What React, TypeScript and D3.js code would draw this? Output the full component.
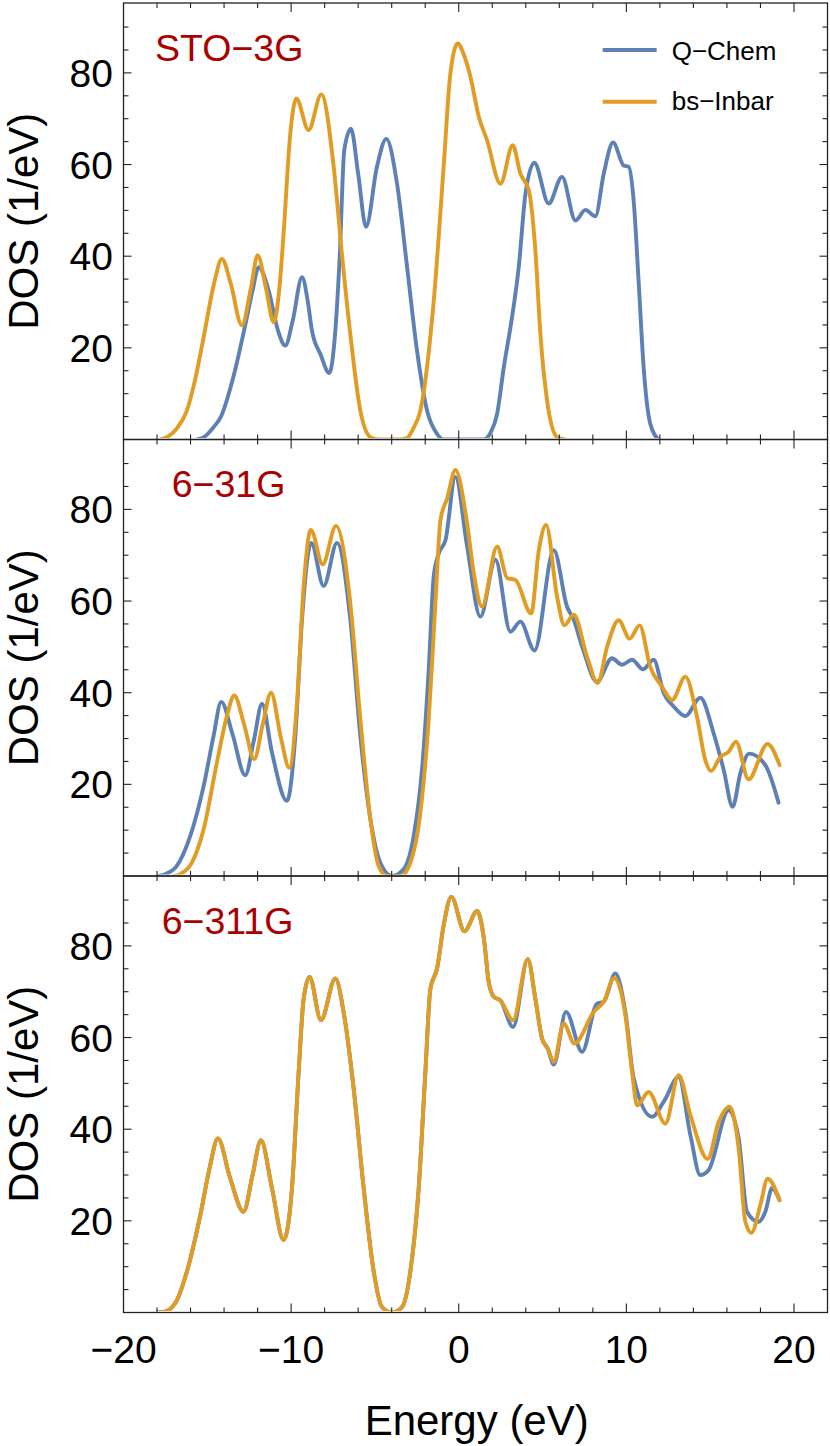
import React from "react";
import * as d3 from "d3";

type Pt = [number, number];

// ---- Data: energy (eV), DOS (1/eV) ----
const sto3gQChem: Pt[] = [
  [-15.6, 0], [-15.2, 0.5], [-14.6, 2.8], [-14.2, 4.9], [-13.4, 14.3], [-12.74, 24.9], [-12.3, 32.5],
  [-11.94, 37.6], [-11.34, 32.5], [-10.8, 24], [-10.35, 20.5], [-9.9, 26], [-9.35, 35.4], [-9.0, 30],
  [-8.76, 23.8], [-8.26, 18.7], [-7.72, 14.5], [-7.4, 22], [-7.1, 40], [-6.83, 63.1], [-6.43, 67.8],
  [-6.0, 58], [-5.53, 46.4], [-4.88, 59.5], [-4.32, 65.6], [-3.68, 55.8], [-3.08, 37.6], [-2.49, 19.4],
  [-1.89, 6.3], [-1.29, 1.2], [-0.9, 0], [1.5, 0], [1.9, 1.5], [2.29, 5.6], [2.69, 15.8], [3.18, 26.7],
  [3.58, 37.6], [3.98, 53.6], [4.51, 60.4], [5.37, 51.5], [6.16, 57.3], [6.96, 47.8], [7.56, 50.1],
  [8.15, 48.7], [8.65, 58], [9.21, 64.8], [9.84, 59.8], [10.14, 59.5], [10.44, 51.9], [10.74, 34],
  [11.03, 15.8], [11.43, 3.4], [11.93, 0],
];
const sto3gInbar: Pt[] = [
  [-17.8, 0], [-17.41, 0.5], [-16.8, 2.5], [-16.22, 6.3], [-15.7, 13.5], [-15.22, 22.3], [-14.6, 34],
  [-14.13, 39.4], [-13.6, 34], [-12.94, 24.9], [-12.4, 33], [-12.0, 40.2], [-11.5, 33], [-11.04, 25.6],
  [-10.7, 33], [-10.45, 44.9], [-10.05, 66.7], [-9.69, 74.4], [-8.96, 67.5], [-8.2, 75.3], [-7.46, 59.5],
  [-6.97, 40.5], [-6.47, 23], [-5.87, 6.3], [-5.27, 0.5], [-4.8, 0], [-3.5, 0], [-3.08, 0.3], [-2.7, 2.5],
  [-2.29, 6.3], [-1.49, 30.3], [-0.9, 59.5], [-0.5, 79.8], [-0.06, 86.4], [0.3, 84], [0.7, 79.1],
  [1.2, 70.4], [1.69, 65.3], [2.49, 55.8], [3.22, 64.2], [3.68, 58], [4.18, 54.4], [4.57, 41.3],
  [4.87, 23.1], [5.27, 8.5], [5.87, 0.5], [6.3, 0],
];
const g631QChem: Pt[] = [
  [-17.9, 0], [-17.51, 0.4], [-16.82, 2.2], [-16.02, 8.7], [-15.22, 19.6], [-14.63, 30.5], [-14.17, 38],
  [-13.5, 31], [-12.74, 22], [-12.2, 30], [-11.74, 37.6], [-11.14, 26.9], [-10.25, 16.4], [-9.75, 30.5],
  [-9.35, 56], [-8.8, 72.7], [-8.06, 63.3], [-7.26, 72.7], [-6.47, 56], [-5.87, 30.5], [-5.27, 12.4],
  [-4.68, 2.9], [-3.98, 0], [-3.28, 1.5], [-2.69, 8.7], [-2.19, 23.3], [-1.79, 45.1], [-1.49, 65.5],
  [-1.19, 70.4], [-0.79, 73.3], [-0.2, 87.1], [0.5, 71.9], [1.29, 56.6], [2.19, 69], [3.08, 53.3],
  [3.68, 55.5], [4.52, 49.2], [5.67, 71.1], [6.46, 58.8], [6.86, 55.9], [7.36, 50.1], [8.25, 42.4],
  [9.14, 47.5], [9.74, 46.1], [10.34, 47.2], [10.99, 45.1], [11.63, 47.2], [12.23, 39.9], [12.82, 37],
  [13.52, 34.9], [14.41, 38.9], [15.21, 31.1], [15.81, 23.1], [16.34, 15.1], [16.8, 22.4], [17.33, 26.7],
  [18.29, 24.2], [19.08, 16.0],
];
const g631Inbar: Pt[] = [
  [-17.0, 0], [-16.62, 0.4], [-15.92, 2.9], [-15.22, 10.2], [-14.43, 24.7], [-13.83, 34.9], [-13.39, 39.4],
  [-12.8, 33], [-12.2, 25.5], [-11.7, 33], [-11.2, 40], [-10.6, 30], [-10.11, 23.6], [-9.65, 37.8],
  [-9.25, 63.3], [-8.82, 75.5], [-8.12, 68], [-7.32, 76.4], [-6.47, 59.6], [-5.87, 34.2], [-5.27, 12.4],
  [-4.78, 2.2], [-4.28, 0], [-3.48, 0], [-2.89, 2.9], [-2.29, 13.8], [-1.79, 34.2], [-1.39, 59.6],
  [-1.09, 77.7], [-0.69, 82.4], [-0.2, 88.6], [0.5, 76.9], [0.9, 66], [1.39, 58.8], [2.29, 71.9],
  [2.89, 65], [3.38, 64.6], [4.32, 57.3], [4.78, 71.1], [5.21, 76.6], [5.87, 60.9], [6.3, 54.7],
  [6.86, 57], [7.66, 47.8], [8.29, 42.1], [8.85, 50], [9.54, 55.8], [10.2, 51.8], [10.79, 54.7],
  [11.43, 45.6], [12.13, 41.3], [12.73, 38.4], [13.52, 43.5], [14.21, 34.8], [14.71, 25.3], [15.05, 22.9],
  [15.61, 26], [16.1, 27.1], [16.54, 29.3], [17.29, 21.1], [18.42, 28.8], [19.14, 24.2],
];
const g6311QChem: Pt[] = [
  [-18.0, 0], [-17.61, 0.1], [-16.92, 2], [-16.22, 8.9], [-15.42, 21.2], [-14.83, 32.1], [-14.37, 38],
  [-13.63, 29.2], [-12.84, 22], [-12.3, 30], [-11.8, 37.6], [-11.14, 27.1], [-10.45, 15.8], [-9.95, 27.1],
  [-9.55, 52.5], [-9.25, 68.5], [-8.9, 73.2], [-8.22, 63.8], [-7.36, 72.9], [-6.87, 65.6], [-6.27, 48.9],
  [-5.67, 27.1], [-5.07, 8.9], [-4.58, 1.2], [-3.98, 0], [-3.38, 1.2], [-2.89, 8.9], [-2.39, 27.1],
  [-1.99, 52.5], [-1.69, 70.7], [-1.29, 75.1], [-0.9, 84.5], [-0.44, 90.7], [0.34, 83.2], [1.1, 87.6],
  [1.5, 81.6], [1.79, 72.1], [2.09, 68.9], [2.49, 68.1], [3.24, 62.3], [4.12, 77.1], [4.57, 68.5],
  [4.97, 59.8], [5.31, 57.6], [5.67, 54.1], [6.4, 65.6], [7.36, 56.9], [8.25, 67.4], [8.65, 67.8],
  [9.34, 74], [9.94, 65.6], [10.44, 51.1], [11.53, 42.7], [12.23, 46], [13.12, 51.4], [13.82, 38.7],
  [14.41, 30], [14.91, 31.1], [16.1, 44.1], [16.7, 38], [17.2, 22], [17.89, 19.8], [18.29, 22],
  [18.69, 27.1], [19.14, 24.5],
];
const g6311Inbar: Pt[] = [
  [-18.0, 0], [-17.61, 0.1], [-16.92, 2], [-16.22, 8.9], [-15.42, 21.2], [-14.83, 32.1], [-14.37, 38],
  [-13.63, 29.2], [-12.84, 22], [-12.3, 30], [-11.8, 37.6], [-11.14, 27.1], [-10.45, 15.8], [-9.95, 27.1],
  [-9.55, 52.5], [-9.25, 68.5], [-8.9, 73.2], [-8.22, 63.8], [-7.36, 72.9], [-6.87, 65.6], [-6.27, 48.9],
  [-5.67, 27.1], [-5.07, 8.9], [-4.58, 1.2], [-3.98, 0], [-3.38, 1.2], [-2.89, 8.9], [-2.39, 27.1],
  [-1.99, 52.5], [-1.69, 70.7], [-1.29, 75.1], [-0.9, 84.5], [-0.44, 90.7], [0.34, 83.2], [1.1, 87.6],
  [1.5, 81.6], [1.79, 72.1], [2.09, 68.9], [2.49, 68.1], [3.24, 63.8], [4.12, 77.1], [4.57, 68.5],
  [4.97, 59.8], [5.31, 57.6], [5.67, 54.7], [6.26, 63.1], [6.9, 58.7], [8.05, 65.6], [8.65, 67.8],
  [9.28, 73], [9.94, 64.9], [10.34, 52.5], [10.64, 45.2], [11.33, 48.1], [12.33, 41.2], [13.12, 51.8],
  [13.82, 43.1], [14.85, 33.5], [15.51, 41.6], [16.16, 44.9], [16.7, 35.8], [17.1, 19.8], [17.46, 17.4],
  [17.99, 23.4], [18.43, 29.2], [19.14, 24.5],
];

const panelLabels = ["STO\u22123G", "6\u221231G", "6\u2212311G"];
const seriesNames = ["Q\u2212Chem", "bs\u2212Inbar"];
const xTickLabels = [-20, -10, 0, 10, 20];
const yTickLabels = [20, 40, 60, 80];
const panelData: Pt[][][] = [
  [sto3gQChem, sto3gInbar],
  [g631QChem, g631Inbar],
  [g6311QChem, g6311Inbar],
];

const COLORS = ["#5e81b5", "#e19c24"];
const FONT = "'Liberation Sans', Arial, Helvetica, sans-serif";
const LEFT = 123.5;
const RIGHT = 827.5;
const PANEL_TOPS = [3, 439.5, 876];
const PANEL_H = 436.5;
const LABEL_X = [155, 171.7, 161.7];

const fmt = (v: number) => (v < 0 ? "\u2212" + Math.abs(v) : String(v));

export default function App() {
  const x = d3.scaleLinear().domain([-20, 22]).range([LEFT, RIGHT]);
  const xTicks = d3.range(-18, 22, 2);
  const yTicksAll = d3.range(5, 95, 5);

  return (
    <svg
      width={830}
      height={1446}
      style={{ position: "absolute", left: 0, top: 0, background: "#fff" }}
      fontFamily={FONT}
    >
      <rect x={0} y={0} width={830} height={1446} fill="#fff" />
      {PANEL_TOPS.map((top, pi) => {
        const bottom = top + PANEL_H;
        const y = d3.scaleLinear().domain([0, 95.25]).range([bottom, top]);
        const line = d3
          .line<Pt>()
          .x((d) => x(d[0]))
          .y((d) => y(d[1]))
          .curve(d3.curveMonotoneX);
        const clipId = `clip${pi}`;
        return (
          <g key={pi}>
            <defs>
              <clipPath id={clipId}>
                <rect x={LEFT} y={top} width={RIGHT - LEFT} height={PANEL_H - 1.6} />
              </clipPath>
            </defs>
            <g clipPath={`url(#${clipId})`}>
              {panelData[pi].map((s, si) => (
                <path
                  key={si}
                  d={line(s) || ""}
                  fill="none"
                  stroke={COLORS[si]}
                  strokeWidth={3.9}
                  strokeLinejoin="round"
                  strokeLinecap="round"
                />
              ))}
            </g>
            {/* frame */}
            <rect
              x={LEFT}
              y={top}
              width={RIGHT - LEFT}
              height={PANEL_H}
              fill="none"
              stroke="#222"
              strokeWidth={1.3}
            />
            {/* x ticks top & bottom */}
            {xTicks.map((t) => {
              const len = t % 10 === 0 ? 9 : 5;
              return (
                <g key={"xt" + t} stroke="#222" strokeWidth={1.1}>
                  <line x1={x(t)} x2={x(t)} y1={bottom} y2={bottom - len} />
                  <line x1={x(t)} x2={x(t)} y1={top} y2={top + len} />
                </g>
              );
            })}
            {/* y ticks left & right */}
            {yTicksAll.map((t) => {
              const len = t % 20 === 0 ? 8 : 5;
              return (
                <g key={"yt" + t} stroke="#222" strokeWidth={1.1}>
                  <line x1={LEFT} x2={LEFT + len} y1={y(t)} y2={y(t)} />
                  <line x1={RIGHT} x2={RIGHT - len} y1={y(t)} y2={y(t)} />
                </g>
              );
            })}
            {yTickLabels.map((t) => (
              <text key={"yl" + t} x={113} y={y(t) + 14} fontSize={39} textAnchor="end" fill="#000">
                {t}
              </text>
            ))}
            <text
              transform={`translate(38, ${(top + bottom) / 2}) rotate(-90)`}
              fontSize={42}
              textAnchor="middle"
              fill="#000"
            >
              DOS (1/eV)
            </text>
            <text x={LABEL_X[pi]} y={top + 57.7} fontSize={37.5} fill="#aa0000">
              {panelLabels[pi]}
            </text>
          </g>
        );
      })}
      {/* legend */}
      {seriesNames.map((n, i) => (
        <g key={n}>
          <line x1={602.7} x2={656.7} y1={50 + i * 51.7} y2={50 + i * 51.7} stroke={COLORS[i]} strokeWidth={3.9} />
          <text x={671.7} y={60 + i * 50} fontSize={26} fill="#000">
            {n}
          </text>
        </g>
      ))}
      {xTickLabels.map((t) => (
        <text key={"xl" + t} x={x(t)} y={1362.7} fontSize={39} textAnchor="middle" fill="#000">
          {fmt(t)}
        </text>
      ))}
      <text x={476.7} y={1435} fontSize={42} textAnchor="middle" fill="#000">
        Energy (eV)
      </text>
    </svg>
  );
}
